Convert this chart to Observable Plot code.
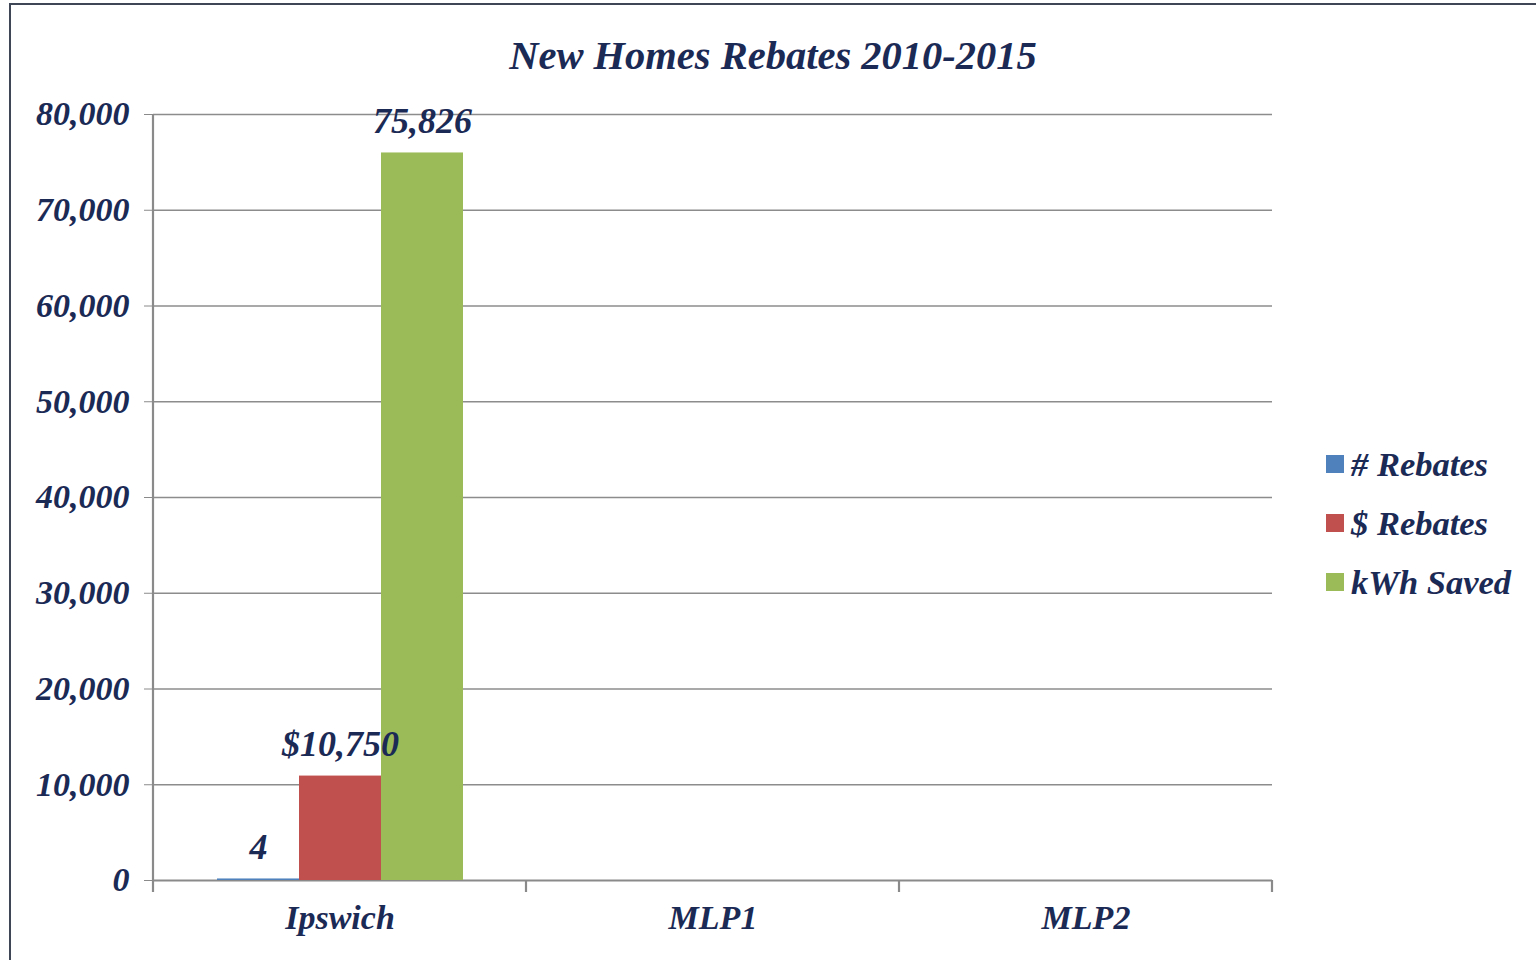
<!DOCTYPE html>
<html>
<head>
<meta charset="utf-8">
<script src="https://cdn.jsdelivr.net/npm/d3@7"></script>
<script src="https://cdn.jsdelivr.net/npm/@observablehq/plot@0.6"></script>
<style>
  body { margin: 0; background: #ffffff; }
  #wrap { position: relative; width: 1536px; height: 960px; overflow: hidden;
    font-family: "Liberation Serif", "Times New Roman", serif; font-weight: bold; font-style: italic; color: #1b2a55; }
  #border { position: absolute; left: 9px; top: 3px; width: 1600px; height: 1000px;
    border-left: 2.5px solid #3f4756; border-top: 2.5px solid #3f4756; box-sizing: border-box; }
  #chart { position: absolute; left: 0; top: 0; }
  #title { position: absolute; left: 273px; width: 1000px; top: 33px; text-align: center; font-size: 40.5px; line-height: 46px; }
  #legend { position: absolute; left: 1326px; top: 445px; }
  .row { display: flex; align-items: center; height: 38px; margin-bottom: 21px; font-size: 34.5px; }
  .sw { width: 18px; height: 18px; margin-right: 7px; }
</style>
</head>
<body>
<div id="wrap">
  <div id="border"></div>
  <div id="chart"></div>
  <div id="title">New Homes Rebates 2010-2015</div>
  <div id="legend"></div>
</div>
<script>
const categories = ["Ipswich", "MLP1", "MLP2"];
const seriesNames = ["# Rebates", "$ Rebates", "kWh Saved"];
const seriesColors = ["#4F81BD", "#C0504D", "#9BBB59"];
const seriesPrefix = ["", "$", ""];
const numRebates = [4, null, null];
const dollarRebates = [10750, null, null];
const kwhSaved = [75826, null, null];
const yTicks = [0, 10000, 20000, 30000, 40000, 50000, 60000, 70000, 80000];

const navy = "#1b2a55";
const gridColor = "#8c8c8c";
const axisColor = "#8a8a8a";
const fmt = d3.format(",");

const seriesValues = [numRebates, dollarRebates, kwhSaved];
const rows = [];
categories.forEach((c, i) => seriesNames.forEach((s, j) => {
  const v = seriesValues[j][i];
  rows.push({category: c, series: s, value: v, label: v == null ? null : seriesPrefix[j] + fmt(v)});
}));
const hasValue = d => d.value != null;

const plot = Plot.plot({
  width: 1536,
  height: 960,
  marginLeft: 152,
  marginRight: 263,
  marginTop: 114,
  marginBottom: 80,
  style: {fontFamily: '"Liberation Serif", "Times New Roman", serif', fontWeight: "bold", fontStyle: "italic",
          fontSize: "34px", color: navy, background: "transparent", overflow: "visible"},
  fx: {domain: categories, padding: 0, label: null},
  x: {domain: seriesNames, paddingInner: 0, paddingOuter: 0.757, axis: null},
  y: {domain: [0, 80000], label: null},
  color: {domain: seriesNames, range: seriesColors},
  marks: [
    Plot.ruleY(yTicks.slice(1), {stroke: gridColor, strokeWidth: 1.6}),
    Plot.ruleY([0], {stroke: axisColor, strokeWidth: 2.2}),
    Plot.barY(rows, {fx: "category", x: "series", y: "value", fill: "series", insetTop: -1.5, filter: hasValue}),
    Plot.text(rows, {fx: "category", x: "series", y: "value", text: "label", dy: -33, fill: navy, fontSize: 36, filter: hasValue}),
    Plot.axisY(yTicks, {tickSize: 9, tickPadding: 15, tickFormat: fmt, stroke: axisColor, fill: navy, label: null}),
    Plot.axisFx({anchor: "bottom", tickSize: 0, tickPadding: 24, fill: navy, label: null})
  ]
});
document.getElementById("chart").appendChild(plot);

// category boundary ticks and vertical axis line, from the plot's own scales
const svg = d3.select(plot.tagName.toLowerCase() === "svg" ? plot : plot.querySelector("svg"));
const fx = plot.scale("fx"), ys = plot.scale("y");
const y0 = ys.apply(0), yTop = ys.apply(d3.max(yTicks));
const edges = categories.map(c => fx.apply(c)).concat([fx.apply(categories[categories.length - 1]) + fx.bandwidth]);
const g = svg.append("g").attr("stroke", axisColor).attr("stroke-width", 2.2);
g.append("line").attr("x1", edges[0]).attr("x2", edges[0]).attr("y1", yTop).attr("y2", y0 + 12);
edges.slice(1).forEach(x => g.append("line").attr("x1", x).attr("x2", x).attr("y1", y0).attr("y2", y0 + 12));

// legend
const legend = d3.select("#legend");
seriesNames.forEach((s, j) => {
  const r = legend.append("div").attr("class", "row");
  r.append("div").attr("class", "sw").style("background", seriesColors[j]);
  r.append("span").text(s);
});
</script>
</body>
</html>
